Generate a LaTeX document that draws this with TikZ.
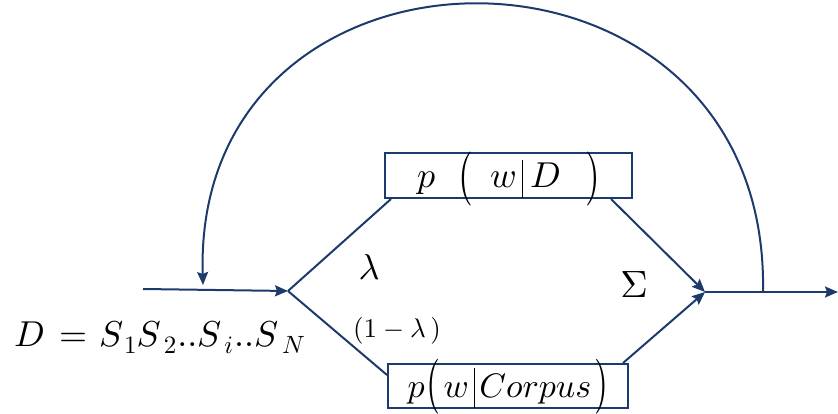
\documentclass[tikz,border=0pt]{standalone}
\usepackage{graphicx}
\usetikzlibrary{calc,arrows.meta}
\definecolor{navy}{RGB}{28,58,108}
\tikzset{
  box/.style={draw=navy,line width=2pt,minimum width=247pt,minimum height=45pt,inner sep=0pt,text height=25pt,text depth=0pt},
  conn/.style={draw=navy,line width=2pt},
  arr/.style={conn,-{Stealth[length=13pt,width=11pt,inset=2pt]}},
  lbl/.style={inner sep=0pt,text=black}
}
\newcommand{\mth}[2]{\scalebox{#1}{$#2$}}
\newcommand{\sbs}[1]{\raisebox{-7pt}{\mth{2.5}{#1}}}
\begin{document}
\begin{tikzpicture}[x=1pt,y=-1pt]
\useasboundingbox (0,0) rectangle (838,414);
% boxes
\node[box] (top) at (508.5,175.5) {%
  \mth{3.6}{p}\hspace{23pt}\raisebox{-5pt}{\scalebox{3.8}[5.4]{$($}}\hspace{17pt}\mth{3.6}{w}\hspace{5pt}\rule[-10pt]{1.4pt}{38pt}\hspace{7pt}\mth{3.6}{D}\hspace{24pt}\raisebox{-5pt}{\scalebox{3.8}[5.4]{$)$}}};
\node[box,minimum width=240pt,minimum height=44pt,text height=22pt] (bot) at (508,386) {%
  \mth{3.4}{p}\hspace{2pt}\raisebox{-3pt}{\scalebox{3.6}[5.5]{$($}}\hspace{3pt}\mth{3.4}{w}\hspace{5pt}\rule[-11pt]{1.4pt}{40pt}\hspace{4pt}\mth{3.4}{Corpus}\hspace{3pt}\raisebox{-3pt}{\scalebox{3.6}[5.5]{$)$}}};
% points
\coordinate (in) at (143,289);
\coordinate (split) at (288,291);
\coordinate (merge) at (705,292);
\coordinate (out) at (838,292);
\coordinate (tap) at (763,292);
\coordinate (fb) at (203,285);
% connectors
\draw[arr] (in) -- (split);
\draw[conn] (split) -- ($(top.south west)+(7,0)$);
\draw[conn] (split) -- ($(bot.west)+(0,-11)$);
\draw[arr] ($(top.south east)+(-22,0)$) -- (merge);
\draw[arr] ($(bot.north east)+(-6,0)$) -- (merge);
\draw[arr] (merge) -- (out);
\draw[arr] (tap) .. controls (770,-90) and (192,-90) .. (fb);
% labels
\node[lbl] (lam) at (369,267) {\mth{3.6}{\lambda}};
\node[lbl] (onelam) at (397,331) {\mth{2.7}{(1-\lambda\,)}};
\node[lbl] (sig) at (634,285) {\mth{3.8}{\Sigma}};
\node[lbl,anchor=base west] (D) at (14,346) {\mth{3.6}{D}\hspace{14pt}\mth{3.6}{=}\hspace{12pt}\mth{3.6}{S}\hspace{1pt}\sbs{1}\mth{3.6}{S}\hspace{3pt}\sbs{2}\hspace{1pt}\mth{3.6}{..S}\hspace{3pt}\sbs{i}\hspace{1pt}\mth{3.6}{..S}\hspace{4pt}\sbs{N}};
\end{tikzpicture}
\end{document}
